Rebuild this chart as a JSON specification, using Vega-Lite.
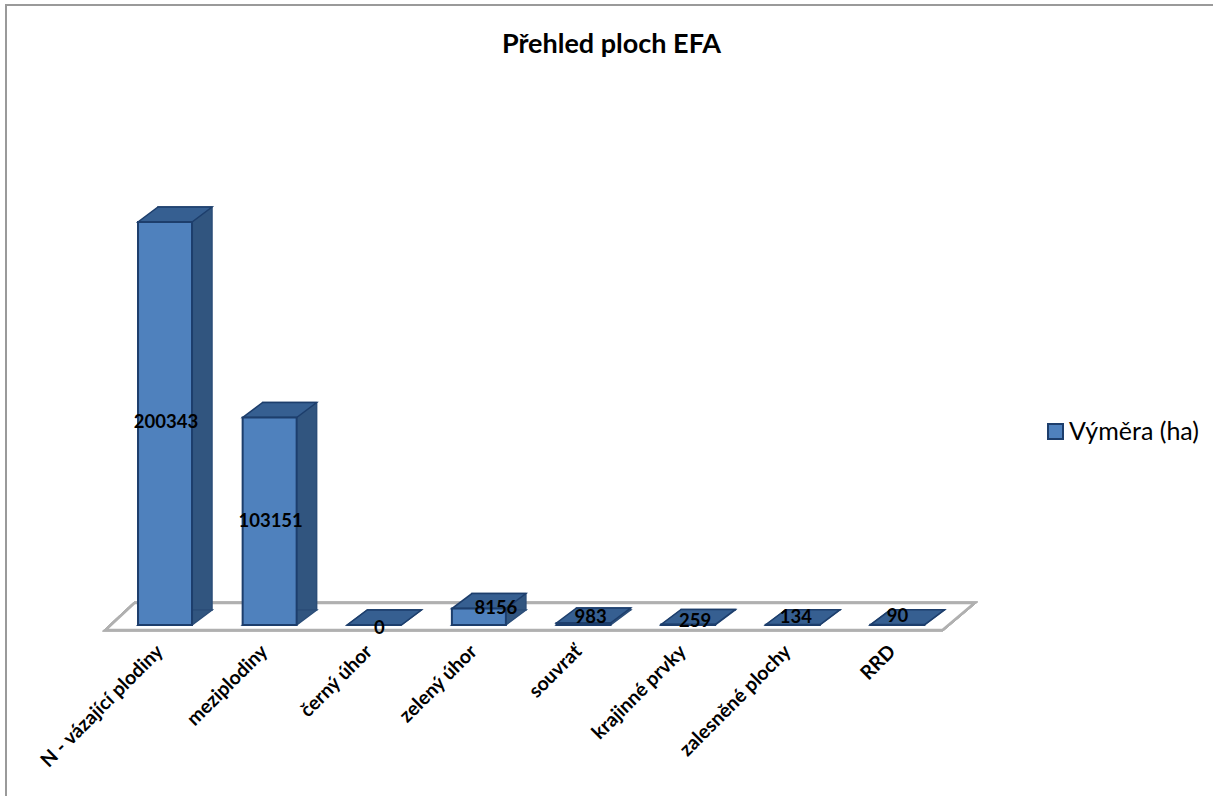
{
"$schema":"https://vega.github.io/schema/vega-lite/v6.json",
"width":1215,"height":800,
"autosize":{"type":"none"},
"padding":{"left":6,"top":5,"right":0,"bottom":0},
"background":"white",
"config":{"view":{"stroke":"#9a9a9a","strokeWidth":2,"fill":"white"},"font":"Lato"},
"title":{"text":"Přehled ploch EFA","font":"Lato","fontSize":27,"fontWeight":"bold","color":"#000000","anchor":"middle","frame":"group","dy":58,"dx":-2},
"data":{"values":[
{"plocha":"N - vázající plodiny","vymera":200343,"serie":"Výměra (ha)"},
{"plocha":"meziplodiny","vymera":103151,"serie":"Výměra (ha)"},
{"plocha":"černý úhor","vymera":0,"serie":"Výměra (ha)"},
{"plocha":"zelený úhor","vymera":8156,"serie":"Výměra (ha)"},
{"plocha":"souvrať","vymera":983,"serie":"Výměra (ha)"},
{"plocha":"krajinné prvky","vymera":259,"serie":"Výměra (ha)"},
{"plocha":"zalesněné plochy","vymera":134,"serie":"Výměra (ha)"},
{"plocha":"RRD","vymera":90,"serie":"Výměra (ha)"}
]},
"encoding":{
"x":{"field":"plocha","type":"nominal","sort":null,"title":null,"scale":{"domain":["N - vázající plodiny","meziplodiny","černý úhor","zelený úhor","souvrať","krajinné prvky","zalesněné plochy","RRD"],"range":[106.7,943.7]},
"axis":{"orient":"bottom","offset":-157,"domain":false,"ticks":false,"grid":false,"labelAngle":-45,"labelAlign":"right","labelBaseline":"middle","labelFont":"Lato","labelFontSize":19.5,"labelFontWeight":"bold","labelColor":"#000000","labelLimit":300,"labelPadding":0,"labelOffset":-5,"labelOverlap":false}},
"y":{"field":"vymera","type":"quantitative","title":null,"axis":null,"scale":{"domain":[0,200343],"range":[620,217],"nice":false,"zero":true}},
"text":{"field":"vymera","type":"quantitative","format":"d"}
},
"layer":[
{"mark":{"type":"point","shape":"M-478,5L359,5L391,-22L-449,-22Z","size":4,"filled":true,"fill":"#ffffff","stroke":"#b0b0b0","strokeWidth":2.5,"opacity":1},
 "encoding":{"x":{"datum":"souvrať"},"y":{"datum":0}}},
{"mark":{"type":"bar","width":54,"xOffset":20,"x2Offset":20,"yOffset":-15,"y2Offset":-15,"fill":"#31557f","stroke":"#2b4d78","strokeWidth":1.5}},
{"mark":{"type":"point","shape":"M-27,0L27,0L47,-15L-7,-15Z","size":4,"filled":true,"fill":"#31557f","stroke":"#2b4d78","strokeWidth":1.5,"opacity":1},
 "encoding":{"y":{"datum":0}}},
{"mark":{"type":"point","shape":"M-27,0L27,0L47,-15L-7,-15Z","size":4,"filled":true,"fill":"#365f91","stroke":"#1d3e6c","strokeWidth":1.5,"opacity":1}},
{"mark":{"type":"bar","width":54,"stroke":"#1d3e6c","strokeWidth":2},
 "encoding":{"color":{"field":"serie","type":"nominal","title":null,"scale":{"range":["#4f81bd"]},
 "legend":{"orient":"none","legendX":1037,"legendY":414,"symbolType":"square","symbolSize":225,"symbolStrokeColor":"#1d3e6c","symbolStrokeWidth":2,"labelFont":"Lato","labelFontSize":25,"labelColor":"#000000","labelLimit":300,"labelOffset":1}}}},
{"transform":[{"filter":"datum.vymera==200343"}],"mark":{"type":"text","font":"Lato","fontWeight":"bold","fontSize":18.5,"color":"#000000","baseline":"middle","dx":1,"dy":200}},
{"transform":[{"filter":"datum.vymera==103151"}],"mark":{"type":"text","font":"Lato","fontWeight":"bold","fontSize":18.5,"color":"#000000","baseline":"middle","dx":1,"dy":103}},
{"transform":[{"filter":"datum.vymera==0"}],"mark":{"type":"text","font":"Lato","fontWeight":"bold","fontSize":18.5,"color":"#000000","baseline":"middle","dx":5,"dy":3}},
{"transform":[{"filter":"datum.vymera==8156"}],"mark":{"type":"text","font":"Lato","fontWeight":"bold","fontSize":18.5,"color":"#000000","baseline":"middle","dx":17,"dy":-1}},
{"transform":[{"filter":"datum.vymera==983"}],"mark":{"type":"text","font":"Lato","fontWeight":"bold","fontSize":18.5,"color":"#000000","baseline":"middle","dx":7,"dy":-6}},
{"transform":[{"filter":"datum.vymera==259"}],"mark":{"type":"text","font":"Lato","fontWeight":"bold","fontSize":18.5,"color":"#000000","baseline":"middle","dx":7,"dy":-3.5}},
{"transform":[{"filter":"datum.vymera==134"}],"mark":{"type":"text","font":"Lato","fontWeight":"bold","fontSize":18.5,"color":"#000000","baseline":"middle","dx":3,"dy":-8}},
{"transform":[{"filter":"datum.vymera==90"}],"mark":{"type":"text","font":"Lato","fontWeight":"bold","fontSize":18.5,"color":"#000000","baseline":"middle","dx":0,"dy":-9}}
]
}
